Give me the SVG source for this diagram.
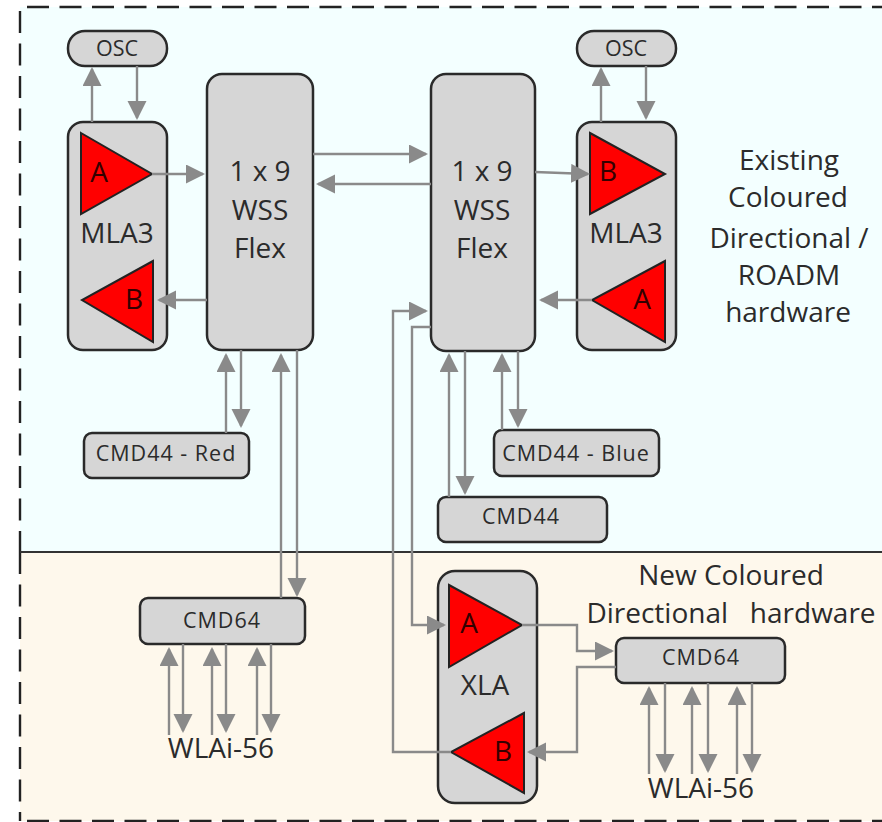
<svg xmlns="http://www.w3.org/2000/svg" width="882" height="822" viewBox="0 0 882 822">
<style>
.n{fill:#d6d6d6;stroke:#2a2a2a;stroke-width:2.5}
.t{fill:#ff0000;stroke:#222;stroke-width:2}
.c{fill:none;stroke:#8a8a8a;stroke-width:2.4;marker-end:url(#a)}
text{font-family:"Open Sans","Noto Sans",sans-serif;fill:#2b2b2b;text-anchor:middle;white-space:pre}
.xl{font-size:28px}
.l{font-size:28px}
.k{font-size:28px;fill:#300}
.m{font-size:21.500px;letter-spacing:1px}
.s{font-size:21.500px}
.d{fill:none;stroke:#222;stroke-width:2.4;stroke-dasharray:22 10.5}
</style>
<defs>
<marker id="a" markerUnits="userSpaceOnUse" markerWidth="21" markerHeight="20" refX="17" refY="9.500" orient="auto">
<path d="M0,0 L19,9.500 L0,19z" fill="#8a8a8a"/>
</marker>
</defs>
<g id="background">
<rect x="20" y="7" width="862" height="545" fill="#f3ffff"/>
<rect x="20" y="552" width="862" height="269" fill="#fef8ec"/>
<path class="d" d="M27,7 H882"/>
<path class="d" d="M20,11 V552"/>
<path class="d" d="M20,552 V821"/>
<path class="d" d="M27,821 H882"/>
<path d="M20,552 H882" stroke="#333" stroke-width="2" fill="none"/>
</g>
<g id="osc-left"><rect class="n" x="68" y="31" width="99" height="35" rx="17"/><text class="s" x="117" y="56">OSC</text></g>
<g id="mla3-left"><rect class="n" x="68" y="122" width="99" height="228" rx="15"/>
<path class="t" d="M81,133 L152,174 L81,214z"/><text class="k" x="99" y="182">A</text>
<text class="l" x="117" y="243">MLA3</text>
<path class="t" d="M153,261 L82,300 L153,342z"/><text class="k" x="134" y="309">B</text></g>
<g id="wss-left"><rect class="n" x="207" y="74" width="106" height="276" rx="15"/>
<text class="xl" x="260" y="181">1 x 9</text><text class="xl" x="260" y="220">WSS</text><text class="xl" x="260" y="258">Flex</text></g>
<g id="wss-right"><rect class="n" x="431" y="74" width="104" height="277" rx="15"/>
<text class="xl" x="482" y="181">1 x 9</text><text class="xl" x="482" y="220">WSS</text><text class="xl" x="482" y="258">Flex</text></g>
<g id="osc-right"><rect class="n" x="577" y="31" width="99" height="35" rx="17"/><text class="s" x="626" y="56">OSC</text></g>
<g id="mla3-right"><rect class="n" x="577" y="122" width="99" height="228" rx="15"/>
<path class="t" d="M590,133 L665,174 L590,214z"/><text class="k" x="608" y="181">B</text>
<text class="l" x="626" y="243">MLA3</text>
<path class="t" d="M665,261 L592,300 L665,342z"/><text class="k" x="642" y="309">A</text></g>
<g id="cmd44-red"><rect class="n" x="84" y="433" width="165" height="45" rx="8"/><text class="m" x="166" y="461">CMD44 - Red</text></g>
<g id="cmd44-blue"><rect class="n" x="494" y="430" width="165" height="46" rx="8"/><text class="m" x="576" y="461">CMD44 - Blue</text></g>
<g id="cmd44"><rect class="n" x="438" y="497" width="169" height="45" rx="8"/><text class="m" x="521" y="524">CMD44</text></g>
<g id="cmd64-left"><rect class="n" x="140" y="598" width="165" height="46" rx="8"/><text class="m" x="222" y="628">CMD64</text></g>
<g id="xla"><rect class="n" x="438" y="571" width="99" height="232" rx="17"/>
<path class="t" d="M449,585 L522,625 L449,667z"/><text class="k" x="469" y="633">A</text>
<text class="l" x="485" y="695">XLA</text>
<path class="t" d="M524,713 L451,752 L524,793z"/><text class="k" x="503" y="761">B</text></g>
<g id="cmd64-right"><rect class="n" x="616" y="638" width="169" height="45" rx="8"/><text class="m" x="701" y="665">CMD64</text></g>
<g id="connectors">
<path class="c" d="M92,122 V69"/><path class="c" d="M137,66 V118"/>
<path class="c" d="M152,174 H203"/><path class="c" d="M207,300 H159"/>
<path class="c" d="M313,154 H426"/><path class="c" d="M431,184 H318"/>
<path class="c" d="M535,172 L588,174"/><path class="c" d="M592,300 H541"/>
<path class="c" d="M601,122 V69"/><path class="c" d="M646,66 V118"/>
<path class="c" d="M226,433 V355"/><path class="c" d="M241,350 V426"/>
<path class="c" d="M281,598 V355"/><path class="c" d="M297,350 V595"/>
<path class="c" d="M449,497 V355"/><path class="c" d="M465,351 V493"/>
<path class="c" d="M502,430 V355"/><path class="c" d="M518,351 V426"/>
<path class="c" d="M451,752 H393 V311 H426"/>
<path class="c" d="M431,327 H412 V625 H444"/>
<path class="c" d="M522,625 H577 V651 H612"/>
<path class="c" d="M616,667 H577 V752 H529"/>
<path class="c" d="M169,735 V649"/><path class="c" d="M183,644 V731"/>
<path class="c" d="M212,735 V649"/><path class="c" d="M226,644 V731"/>
<path class="c" d="M257,735 V649"/><path class="c" d="M271,644 V731"/>
<path class="c" d="M649,774 V688"/><path class="c" d="M665,683 V771"/>
<path class="c" d="M692,774 V688"/><path class="c" d="M708,683 V771"/>
<path class="c" d="M737,774 V688"/><path class="c" d="M752,683 V771"/>
</g>
<g id="labels">
<text class="l" x="789" y="170">Existing</text>
<text class="l" x="788" y="207">Coloured</text>
<text class="l" x="789" y="248">Directional /</text>
<text class="l" x="789" y="285">ROADM</text>
<text class="l" x="788" y="322">hardware</text>
<text class="l" x="731" y="585">New Coloured</text>
<text class="l" x="731" y="623">Directional   hardware</text>
<text class="l" x="221" y="758">WLAi-56</text>
<text class="l" x="701" y="798">WLAi-56</text>
</g>
</svg>
